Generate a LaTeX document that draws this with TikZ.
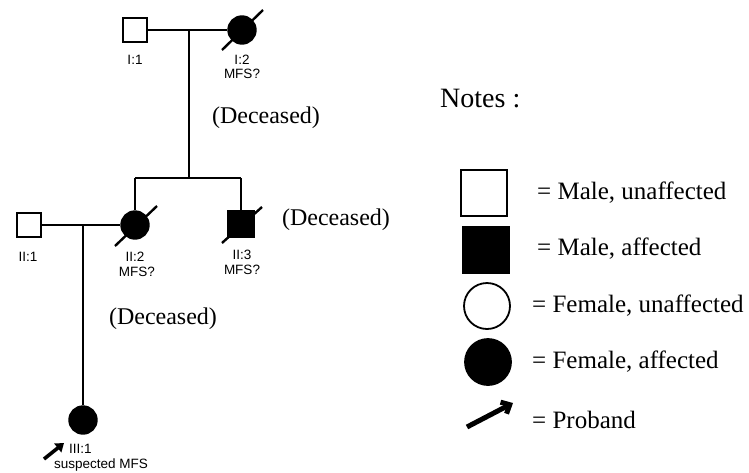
\documentclass[tikz,border=0pt]{standalone}
\usepackage{fontspec}
\setmainfont{Liberation Serif}
\newfontfamily\labelfont{Liberation Sans}
\usetikzlibrary{arrows.meta}
\tikzset{
  ped/.style={line width=2.4pt},
  malebox/.style={draw, line width=2.4pt, minimum size=24pt, inner sep=0pt, fill=white},
  femcirc/.style={circle, draw, line width=2.4pt, minimum size=27pt, inner sep=0pt},
  affected/.style={fill=black},
  deadslash/.style={line width=2.4pt},
  idlabel/.style={font=\labelfont\fontsize{13.5}{13.5}\selectfont, inner sep=0pt, align=center},
  note/.style={font=\fontsize{24}{26}\selectfont, inner sep=0pt},
  legtext/.style={font=\fontsize{25}{27}\selectfont, inner sep=0pt, anchor=west},
  legbox/.style={draw, line width=1.8pt, minimum size=46pt, inner sep=0pt},
  legcirc/.style={circle, draw, line width=1.8pt, minimum size=46pt, inner sep=0pt},
}
\begin{document}
\begin{tikzpicture}[x=1pt, y=-1pt]
\useasboundingbox (0,0) rectangle (749,472);

% generation I
\node[malebox] (i1) at (135,30) {};
\node[femcirc, affected] (i2) at (242,30) {};
\draw[deadslash] (222,50) -- (263,10);
\coordinate (m1) at (189,30);
\draw[ped] (i1) -- (i2);
\node[idlabel] (li1) at (135,60) {I:1};
\node[idlabel] (li2) at (242,60) {I:2};
\node[idlabel] (li2b) at (242,74) {MFS?};

% sibship of generation II
\coordinate (s1) at (189,178);
\coordinate (s2l) at (135,178);
\coordinate (s2r) at (241,178);
\draw[ped] (m1) -- (s1);
\draw[ped] (s2l) -- (s2r);

\node[malebox] (ii1) at (29,225) {};
\node[femcirc, affected] (ii2) at (135,225) {};
\node[malebox, affected, minimum size=26pt] (ii3) at (241,224) {};
\draw[ped] (s2l) -- (ii2);
\draw[ped] (s2r) -- (ii3);
\draw[deadslash] (115,246) -- (157,206);
\draw[deadslash] (222,243) -- (262,207);
\draw[ped] (ii1) -- (ii2);
\coordinate (m2) at (83,225);

\node[idlabel] (lii1) at (28,257) {II:1};
\node[idlabel] (lii2) at (135,257) {II:2};
\node[idlabel] (lii2b) at (137,272) {MFS?};
\node[idlabel] (lii3) at (242,255) {II:3};
\node[idlabel] (lii3b) at (242,270) {MFS?};

% generation III
\node[femcirc, affected] (iii1) at (83,420) {};
\draw[ped] (m2) -- (iii1);
\coordinate (pa) at (44,459);
\coordinate (pb) at (64,443);
\draw[line width=3.6pt, -{Triangle[length=8pt, width=11pt]}] (pa) -- (pb);
\node[idlabel, anchor=west] (liii1) at (69,449) {III:1};
\node[idlabel, anchor=base west] (liii1b) at (54,468) {suspected MFS};

% deceased notes
\node[note] (d1) at (266,118) {(Deceased)};
\node[note] (d2) at (336,220) {(Deceased)};
\node[note] (d3) at (163,319) {(Deceased)};

% legend
\node[note, anchor=base west, font=\fontsize{28}{30}\selectfont] (notes) at (440,107) {Notes :};
\node[legbox] (k1) at (484,193) {};
\node[legbox, fill=black] (k2) at (486,250) {};
\node[legcirc] (k3) at (487,306) {};
\node[legcirc, fill=black] (k4) at (488,362) {};
\coordinate (ka) at (467,427);
\coordinate (kb) at (513,403);
\draw[line width=5pt, -{Straight Barb[length=7pt, width=13pt]}] (ka) -- (kb);
\node[legtext] (t1) at (537,193) {= Male, unaffected};
\node[legtext] (t2) at (537,249) {= Male, affected};
\node[legtext] (t3) at (532,306) {= Female, unaffected};
\node[legtext] (t4) at (532,362) {= Female, affected};
\node[legtext] (t5) at (532,420) {= Proband};
\end{tikzpicture}
\end{document}
